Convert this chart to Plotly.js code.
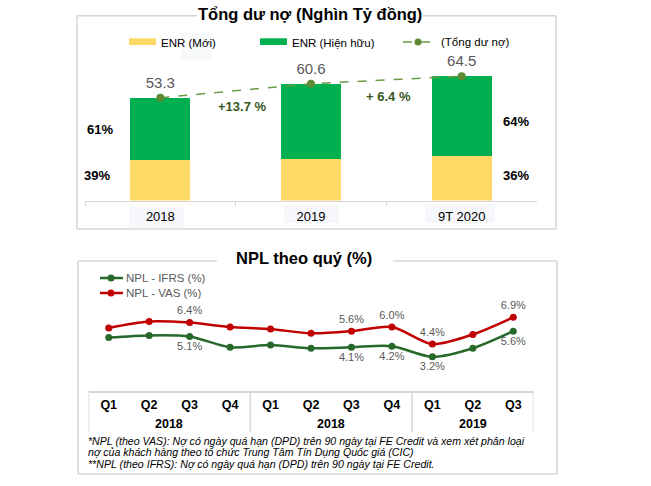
<!DOCTYPE html>
<html>
<head>
<meta charset="utf-8">
<script src="https://cdn.plot.ly/plotly-3.0.1.min.js"></script>
<style>html,body{margin:0;padding:0;background:#fff;}#chart{width:651px;height:486px;}</style>
</head>
<body>
<div id="chart"></div>
<script>
// ---- Data: top chart (Tổng dư nợ, nghìn tỷ đồng) ----
const categories = ['2018', '2019', '9T 2020'];
const enrNew = [20.8, 21.3, 23.2];        // ENR (Mới)
const enrExisting = [32.5, 39.3, 41.3];   // ENR (Hiện hữu)
const totalDebt = [53.3, 60.6, 64.5];     // Tổng dư nợ
const growthLabels = ['+13.7 %', '+ 6.4 %'];
const shareLabels = ['61%', '39%', '64%', '36%'];

// ---- Data: bottom chart (NPL theo quý, %) ----
const quarters = ['Q1', 'Q2', 'Q3', 'Q4', 'Q1', 'Q2', 'Q3', 'Q4', 'Q1', 'Q2', 'Q3'];
const yearGroups = ['2018', '2018', '2019'];
const nplVas = [5.9, 6.5, 6.4, 6.0, 5.8, 5.4, 5.6, 6.0, 4.4, 5.3, 6.9];
const nplIfrs = [5.0, 5.2, 5.1, 4.1, 4.3, 4.0, 4.1, 4.2, 3.2, 4.0, 5.6];
const vasLabels = ['', '', '6.4%', '', '', '', '5.6%', '6.0%', '4.4%', '', '6.9%'];
const ifrsLabels = ['', '', '5.1%', '', '', '', '4.1%', '4.2%', '3.2%', '', '5.6%'];

const footnotes = [
  '*NPL (theo VAS): Nợ có ngày quá hạn (DPD) trên 90 ngày tại FE Credit và xem xét phân loại',
  'nợ của khách hàng theo tổ chức Trung Tâm Tín Dụng Quốc giá (CIC)',
  '**NPL (theo IFRS): Nợ có ngày quá hạn (DPD) trên 90 ngày tại FE Credit.'
];

// ---- helpers ----
const W = 651, H = 486;
const px = x => x / W;
const py = y => 1 - y / H;
const F = 'Liberation Sans, Arial, sans-serif';
const GREY = '#595959';
const FRAME = '#d6d6d6';
const YELLOW = '#ffd966';
const GREEN = '#00b050';
const DASHG = '#6b9a46';
const RED = '#c00000';
const DGREEN = '#26692b';

const qIdx = quarters.map((_, i) => i);

const traces = [
  {type: 'bar', x: categories, y: enrNew, name: 'ENR (Mới)', marker: {color: YELLOW, line: {width: 0}},
   width: 0.4, xaxis: 'x', yaxis: 'y', hoverinfo: 'skip', showlegend: false},
  {type: 'bar', x: categories, y: enrExisting, name: 'ENR (Hiện hữu)', marker: {color: GREEN, line: {width: 0}},
   width: 0.4, xaxis: 'x', yaxis: 'y', hoverinfo: 'skip', showlegend: false},
  {type: 'scatter', mode: 'lines+markers+text', x: categories, y: totalDebt, name: '(Tổng dư nợ)',
   line: {color: DASHG, width: 1.5, dash: 'dash'}, marker: {color: '#5e8a35', size: 8},
   texttemplate: '%{y:.1f}', textposition: 'top center', textfont: {family: F, size: 15, color: GREY},
   xaxis: 'x', yaxis: 'y', hoverinfo: 'skip', showlegend: false, cliponaxis: false},
  {type: 'scatter', mode: 'lines+markers+text', x: qIdx, y: nplVas, name: 'NPL - VAS (%)',
   line: {color: RED, width: 2.5, shape: 'spline', smoothing: 0.8}, marker: {color: RED, size: 7},
   text: vasLabels, textposition: 'top center', textfont: {family: F, size: 11, color: GREY},
   xaxis: 'x2', yaxis: 'y2', hoverinfo: 'skip', showlegend: false, cliponaxis: false},
  {type: 'scatter', mode: 'lines+markers+text', x: qIdx, y: nplIfrs, name: 'NPL - IFRS (%)',
   line: {color: DGREEN, width: 2.5, shape: 'spline', smoothing: 0.8}, marker: {color: DGREEN, size: 7},
   text: ifrsLabels, textposition: 'bottom center', textfont: {family: F, size: 11, color: GREY},
   xaxis: 'x2', yaxis: 'y2', hoverinfo: 'skip', showlegend: false, cliponaxis: false}
];

const shapes = [];
function seg(x0, y0, x1, y1, color, width, dash) {
  shapes.push({type: 'line', xref: 'paper', yref: 'paper', x0: px(x0), y0: py(y0), x1: px(x1), y1: py(y1),
               line: {color: color, width: width, dash: dash || 'solid'}, layer: 'below'});
}
function rect(x0, y0, x1, y1, fill) {
  shapes.push({type: 'rect', xref: 'paper', yref: 'paper', x0: px(x0), y0: py(y0), x1: px(x1), y1: py(y1),
               fillcolor: fill, line: {width: 0}, layer: 'below'});
}
function dot(cx, cy, r, fill) {
  shapes.push({type: 'circle', xref: 'paper', yref: 'paper', x0: px(cx - r), y0: py(cy + r), x1: px(cx + r), y1: py(cy - r),
               fillcolor: fill, line: {width: 0}, layer: 'above'});
}

// top frame
seg(77, 15.7, 197, 15.7, FRAME, 1.5);
seg(423, 15.7, 556, 15.7, FRAME, 1.5);
seg(77, 15.7, 77, 229, FRAME, 1.5);
seg(556, 15.7, 556, 229, FRAME, 1.5);
seg(77, 229, 556, 229, FRAME, 1.5);
// label backgrounds (top)
rect(129, 207, 184, 228, '#f5f7fa');
rect(284, 205, 339, 223, '#f5f7fa');
rect(425, 204, 495, 223, '#f5f7fa');
rect(181, 33, 212, 60, '#f7f9fb');
// top legend
rect(129, 38.3, 156, 45, YELLOW);
rect(260, 38.3, 287, 45, GREEN);
seg(403, 42, 437, 42, DASHG, 1.5, 'dash');
dot(418, 42, 3.5, '#5e8a35');

// bottom frame
seg(78, 261, 217, 261, FRAME, 1.5);
seg(393, 261, 557, 261, FRAME, 1.5);
seg(78, 261, 78, 474, FRAME, 1.5);
seg(557, 261, 557, 474, FRAME, 1.5);
seg(78, 474, 557, 474, FRAME, 1.5);
// bottom legend
seg(100, 278, 123, 278, DGREEN, 2.5);
dot(111, 278, 3.5, DGREEN);
seg(100, 293, 123, 293, RED, 2.5);
dot(111, 293, 3.5, RED);

// category table borders (bottom)
[-0.5, 3.5, 7.5, 10.5].forEach(v => {
  shapes.push({type: 'line', xref: 'x2', yref: 'paper', x0: v, x1: v, y0: py(391), y1: py(432),
               line: {color: FRAME, width: 1.5}, layer: 'below'});
});

const annotations = [];
function txt(text, x, y, opts) {
  annotations.push(Object.assign({text: text, x: px(x), y: py(y), xref: 'paper', yref: 'paper', showarrow: false,
    xanchor: 'center', yanchor: 'middle', font: {family: F, size: 12, color: '#000'}}, opts || {}));
}

// titles
txt('<b>Tổng dư nợ (Nghìn Tỷ đồng)</b>', 310, 14, {font: {family: F, size: 16.5, color: '#000'}});
txt('<b>NPL theo quý (%)</b>', 304, 258, {font: {family: F, size: 16.5, color: '#000'}});

// top legend text
txt('ENR (Mới)', 159, 43, {xanchor: 'left', font: {family: F, size: 11.5, color: '#000'}});
txt('ENR (Hiện hữu)', 290, 43, {xanchor: 'left', font: {family: F, size: 11.5, color: '#000'}});
txt('(Tổng dư nợ)', 439, 42, {xanchor: 'left', font: {family: F, size: 11.5, color: '#000'}});

// growth labels
txt('<b>' + growthLabels[0] + '</b>', 242, 106, {font: {family: F, size: 13, color: '#375623'}});
txt('<b>' + growthLabels[1] + '</b>', 388, 96, {font: {family: F, size: 13, color: '#375623'}});

// share labels
txt('<b>' + shareLabels[0] + '</b>', 100, 129, {font: {family: F, size: 13, color: '#000'}});
txt('<b>' + shareLabels[1] + '</b>', 97, 175, {font: {family: F, size: 13, color: '#000'}});
txt('<b>' + shareLabels[2] + '</b>', 516, 121, {font: {family: F, size: 13, color: '#000'}});
txt('<b>' + shareLabels[3] + '</b>', 516, 175, {font: {family: F, size: 13, color: '#000'}});

// bottom legend text
txt('NPL - IFRS (%)', 124, 278, {xanchor: 'left', font: {family: F, size: 11.5, color: GREY}});
txt('NPL - VAS (%)', 124, 293, {xanchor: 'left', font: {family: F, size: 11.5, color: GREY}});

// year group labels
const groupCenters = [1.5, 5.5, 9];
yearGroups.forEach((yr, i) => {
  annotations.push({text: '<b>' + yr + '</b>', x: groupCenters[i], y: py(424), xref: 'x2', yref: 'paper',
    showarrow: false, xanchor: 'center', yanchor: 'middle', font: {family: F, size: 12.5, color: '#000'}});
});

// footnotes
const fnY = [441, 452, 464];
footnotes.forEach((t, i) => {
  txt('<i>' + t + '</i>', 86, fnY[i], {xanchor: 'left', font: {family: F, size: 10.6, color: '#000'}});
});

const layout = {
  width: W, height: H,
  margin: {l: 0, r: 0, t: 0, b: 0, pad: 0},
  paper_bgcolor: '#fff', plot_bgcolor: 'rgba(0,0,0,0)',
  showlegend: false,
  barmode: 'stack',
  font: {family: F},
  xaxis: {domain: [px(85), px(537)], range: [-0.5, 2.5], type: 'category', showline: true, linecolor: FRAME, linewidth: 1,
          ticks: 'outside', tickson: 'boundaries', ticklen: 4, tickcolor: FRAME, tickwidth: 1, ticklabelstandoff: 4,
          showgrid: false, zeroline: false, tickfont: {family: F, size: 13, color: '#000'}, fixedrange: true},
  yaxis: {domain: [py(200.5), py(65.6)], range: [0, 70], visible: false, showgrid: false, zeroline: false, fixedrange: true},
  xaxis2: {domain: [px(88.5), px(533.5)], range: [-0.5, 10.5], anchor: 'y2', tickvals: qIdx, ticktext: quarters,
           showline: true, linecolor: FRAME, linewidth: 1.5, ticks: '', showgrid: false, zeroline: false,
           ticklabelstandoff: 1,
           tickfont: {family: F, size: 12.5, color: '#000', weight: 'bold'}, fixedrange: true},
  yaxis2: {domain: [py(391.1), py(305.5)], range: [0, 8], anchor: 'x2', visible: false, showgrid: false, zeroline: false, fixedrange: true},
  shapes: shapes,
  annotations: annotations
};

Plotly.newPlot('chart', traces, layout, {staticPlot: true, displayModeBar: false});
</script>
</body>
</html>
